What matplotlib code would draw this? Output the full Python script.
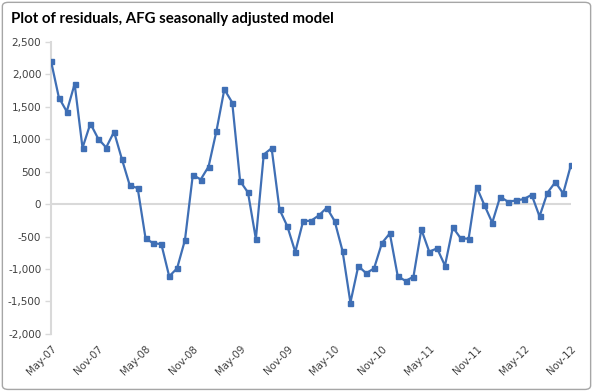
import matplotlib
matplotlib.use("Agg")
import matplotlib.pyplot as plt
from matplotlib.patches import FancyBboxPatch
from matplotlib.ticker import FuncFormatter, MultipleLocator

residuals = [2205, 1641, 1426, 1851, 866, 1241, 1005, 872, 1113, 692, 287, 246,
             -528, -605, -615, -1113, -990, -554, 451, 379, 579, 1128, 1769, 1564,
             354, 179, -538, 764, 861, -82, -344, -738, -262, -256, -174, -56,
             -262, -723, -1518, -954, -1066, -990, -600, -451, -1108, -1185, -1118, -390,
             -733, -682, -949, -359, -528, -533, 267, -15, -287, 113, 36, 56,
             77, 143, -190, 174, 338, 164, 610]
tick_labels = ["May-07", "Nov-07", "May-08", "Nov-08", "May-09", "Nov-09",
               "May-10", "Nov-10", "May-11", "Nov-11", "May-12", "Nov-12"]
title = "Plot of residuals, AFG seasonally adjusted model"

fig = plt.figure(figsize=(5.93, 3.91), dpi=100)
fig.patches.append(FancyBboxPatch((0.004, 0.004), 0.992, 0.99,
                                  boxstyle="round,pad=0,rounding_size=0.01",
                                  transform=fig.transFigure, facecolor="white",
                                  edgecolor="#a6a6a6", linewidth=1.0, zorder=-1))
ax = fig.add_axes([0.086, 0.146, 0.877, 0.747])
ax.set_facecolor("none")

x = list(range(len(residuals)))
ax.axhline(0, color="#d9d9d9", linewidth=1.5, zorder=1)
ax.plot(x, residuals, color="#3f6fb5", linewidth=1.6, marker="s", markersize=3.6,
        markerfacecolor="#3f6fb5", markeredgecolor="#3f6fb5", zorder=3)

ax.set_xlim(0, len(residuals) - 1)
ax.set_ylim(-2000, 2500)
ax.yaxis.set_major_locator(MultipleLocator(500))
ax.yaxis.set_major_formatter(FuncFormatter(lambda v, p: f"{int(v):,}"))

ax.set_xticks(list(range(0, len(residuals), 6)))
ax.set_xticklabels(tick_labels, rotation=45, ha="right", va="top",
                   rotation_mode="anchor", fontsize=7.3, color="#404040")
ax.tick_params(axis="x", length=0, pad=7)
ax.tick_params(axis="y", length=4, width=1, color="#d9d9d9", labelsize=7.5,
               labelcolor="#404040", pad=3)

for s in ["top", "right", "bottom"]:
    ax.spines[s].set_visible(False)
ax.spines["left"].set_color("#d9d9d9")
ax.spines["left"].set_linewidth(1.5)

fig.text(0.018, 0.952, title, fontsize=10.8, fontweight="bold",
         family=["Lato", "DejaVu Sans"], va="center", ha="left", color="black")

fig.savefig("out.png", dpi=100)
